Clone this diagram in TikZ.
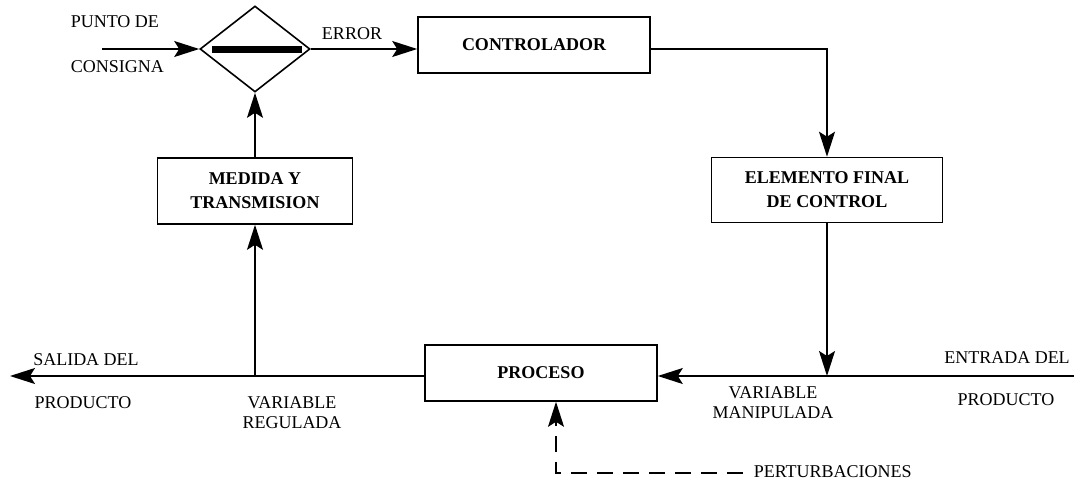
\documentclass[tikz,border=0pt]{standalone}
\usepackage{fontspec}
\setmainfont{Liberation Serif}
\usetikzlibrary{shapes.geometric,arrows.meta}

\begin{document}
\begin{tikzpicture}[x=1pt,y=-1pt,line width=1.6pt,
  flow/.style={-{Stealth[length=25pt,width=16pt,inset=5pt]}},
  block/.style={draw,rectangle,inner sep=0pt,align=center,font=\bfseries\fontsize{18}{24}\selectfont},
  lbl/.style={font=\fontsize{18}{20}\selectfont,align=center,inner sep=0pt}]
  \useasboundingbox (0,0) rectangle (1074,488);
  % bloques
  \node[draw,diamond,minimum width=110pt,minimum height=86pt,inner sep=0pt] (sum) at (255,49) {};
  \fill (sum.center) +(-43,-3.5) rectangle +(47,3.5);
  \node[block,minimum width=232pt,minimum height=56pt] (ctrl) at (534,45) {CONTROLADOR};
  \node[block,minimum width=231pt,minimum height=65pt] (elem) at (827,190) {ELEMENTO FINAL\\DE CONTROL};
  \node[block,minimum width=195pt,minimum height=66pt] (med) at (255,191) {MEDIDA Y\\TRANSMISION};
  \node[block,minimum width=232pt,minimum height=56pt] (proc) at (541,373) {PROCESO};
  % puntos libres
  \coordinate (ref) at (102,49);
  \coordinate (inR) at (1074,376);
  \coordinate (outL) at (10,376);
  \coordinate (dist) at (743,473);
  % conexiones
  \draw[flow] (ref) -- (sum.west);
  \draw[flow] (sum.east) -- (sum.east -| ctrl.west);
  \draw[flow] (sum.east -| ctrl.east) -| (elem.north);
  \draw[flow] (elem.south) -- (elem.south |- inR);
  \draw[flow] (inR) -- (inR -| proc.east);
  \draw[flow] (outL -| proc.west) -- (outL);
  \draw[flow] (med.south |- outL) -- (med.south);
  \draw[flow] (med.north) -- (sum.south);
  \draw[flow,dashed,dash pattern=on 16pt off 10pt] (dist) -| ([xshift=15pt]proc.south);
  % etiquetas
  \node[lbl,anchor=west] (pto) at (70,22) {PUNTO DE};
  \node[lbl,anchor=west] (cons) at (70,67) {CONSIGNA};
  \node[lbl] (err) at (352,34) {ERROR};
  \node[lbl] (sal) at (86,360) {SALIDA DEL};
  \node[lbl] (prodL) at (83,403) {PRODUCTO};
  \node[lbl] (vreg) at (292,413) {VARIABLE\\REGULADA};
  \node[lbl] (vman) at (773,403) {VARIABLE\\MANIPULADA};
  \node[lbl] (ent) at (1007,358) {ENTRADA DEL};
  \node[lbl] (prodR) at (1006,400) {PRODUCTO};
  \node[lbl,anchor=west] (pert) at (753,472) {PERTURBACIONES};
\end{tikzpicture}
\end{document}
